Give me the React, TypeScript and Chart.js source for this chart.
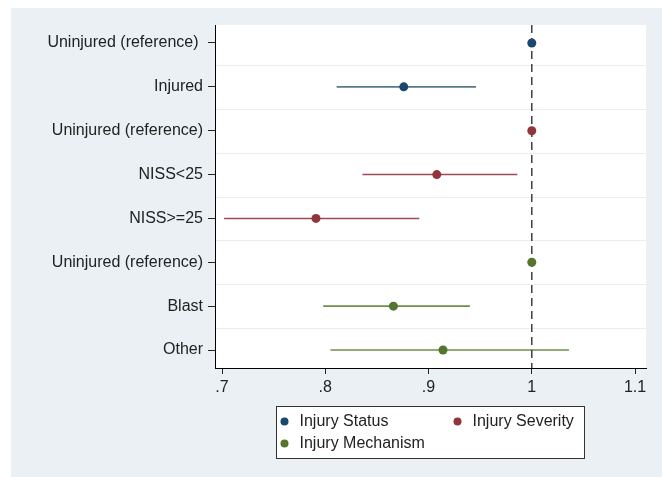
import React, { useEffect, useRef } from "react";
import { Chart, registerables } from "chart.js";

Chart.register(...registerables);

const CATEGORIES = [
  "Uninjured (reference) ",
  "Injured",
  "Uninjured (reference)",
  "NISS<25",
  "NISS>=25",
  "Uninjured (reference)",
  "Blast",
  "Other",
];

const X_TICKS = [0.7, 0.8, 0.9, 1.0, 1.1];
const X_TICK_LABELS = [".7", ".8", ".9", "1", "1.1"];

const SERIES_NAMES = ["Injury Status", "Injury Severity", "Injury Mechanism"];

const STATUS_ROWS = [0, 1];
const STATUS_EST = [1.0, 0.876];
const STATUS_LO = [null, 0.811];
const STATUS_HI = [null, 0.946];

const SEVERITY_ROWS = [2, 3, 4];
const SEVERITY_EST = [1.0, 0.908, 0.791];
const SEVERITY_LO = [null, 0.836, 0.702];
const SEVERITY_HI = [null, 0.986, 0.891];

const MECH_ROWS = [5, 6, 7];
const MECH_EST = [1.0, 0.866, 0.914];
const MECH_LO = [null, 0.798, 0.805];
const MECH_HI = [null, 0.94, 1.036];

const REFERENCE_VALUE = 1;

const POINT_COLORS = ["#1a476f", "#90353b", "#55752f"];
const CI_COLORS = ["#56788a", "#a04853", "#6f8f48"];

const Y_MIN = -0.41;
const Y_MAX = 7.41;

const FONT = "'Liberation Sans', Arial, sans-serif";

export default function App() {
  const ref = useRef<HTMLCanvasElement | null>(null);

  useEffect(() => {
    if (!ref.current) return;
    const groups = [
      { rows: STATUS_ROWS, est: STATUS_EST, lo: STATUS_LO, hi: STATUS_HI },
      { rows: SEVERITY_ROWS, est: SEVERITY_EST, lo: SEVERITY_LO, hi: SEVERITY_HI },
      { rows: MECH_ROWS, est: MECH_EST, lo: MECH_LO, hi: MECH_HI },
    ];

    const datasets: any[] = [];
    groups.forEach((g, gi) => {
      datasets.push({
        type: "scatter",
        label: SERIES_NAMES[gi],
        data: g.rows.map((r, i) => ({ x: g.est[i], y: r })),
        backgroundColor: POINT_COLORS[gi],
        borderColor: POINT_COLORS[gi],
        pointRadius: 4.5,
        pointBorderWidth: 0,
        order: 0,
        isLegend: true,
      });
    });
    groups.forEach((g, gi) => {
      g.rows.forEach((r, i) => {
        if (g.lo[i] == null || g.hi[i] == null) return;
        datasets.push({
          type: "line",
          label: "ci",
          data: [
            { x: g.lo[i], y: r },
            { x: g.hi[i], y: r },
          ],
          borderColor: CI_COLORS[gi],
          borderWidth: 1.6,
          pointRadius: 0,
          fill: false,
          order: 2,
        });
      });
    });
    datasets.push({
      type: "line",
      label: "ref",
      data: [
        { x: REFERENCE_VALUE, y: Y_MIN },
        { x: REFERENCE_VALUE, y: Y_MAX },
      ],
      borderColor: "#333333",
      borderWidth: 1.4,
      borderDash: [8, 5],
      pointRadius: 0,
      fill: false,
      order: 1,
    });

    const bgPlugin = {
      id: "plotBg",
      beforeDraw(chart: any) {
        const { ctx, chartArea } = chart;
        ctx.save();
        ctx.fillStyle = "#ffffff";
        ctx.fillRect(chartArea.left, chartArea.top, chartArea.right - chartArea.left, chartArea.bottom - chartArea.top);
        const ys = chart.scales.y;
        ctx.strokeStyle = "#ececec";
        ctx.lineWidth = 1;
        for (let i = 0; i < CATEGORIES.length - 1; i++) {
          const py = Math.round(ys.getPixelForValue(i + 0.5)) + 0.5;
          ctx.beginPath();
          ctx.moveTo(chartArea.left, py);
          ctx.lineTo(chartArea.right, py);
          ctx.stroke();
        }
        ctx.restore();
      },
    };

    const legendPlugin = {
      id: "boxLegend",
      afterDraw(chart: any) {
        const { ctx, chartArea } = chart;
        const w = 308;
        const h = 52;
        const cx = (chartArea.left + chartArea.right) / 2 - 1;
        const left = Math.round(cx - w / 2) + 0.5;
        const top = Math.round(chartArea.bottom + 38) + 0.5;
        ctx.save();
        ctx.fillStyle = "#ffffff";
        ctx.fillRect(left, top, w, h);
        ctx.strokeStyle = "#333333";
        ctx.lineWidth = 1;
        ctx.strokeRect(left, top, w, h);
        ctx.font = `16px ${FONT}`;
        ctx.textBaseline = "middle";
        ctx.fillStyle = "#222222";
        const pos = [
          [left + 8, top + 15],
          [left + 181, top + 15],
          [left + 8, top + 37],
        ];
        SERIES_NAMES.forEach((name, i) => {
          const [mx, my] = pos[i];
          ctx.beginPath();
          ctx.fillStyle = POINT_COLORS[i];
          ctx.arc(mx, my, 4, 0, Math.PI * 2);
          ctx.fill();
          ctx.fillStyle = "#222222";
          ctx.fillText(name, mx + 15, my);
        });
        ctx.restore();
      },
    };

    const chart = new Chart(ref.current, {
      type: "scatter",
      data: { datasets },
      options: {
        animation: false,
        responsive: false,
        maintainAspectRatio: false,
        layout: { padding: { top: 25, right: 16, bottom: 79, left: 0 } },
        plugins: {
          legend: { display: false },
          tooltip: { enabled: false },
        },
        scales: {
          x: {
            type: "linear",
            min: 0.6932,
            max: 1.1106,
            afterBuildTicks: (s: any) => {
              s.ticks = X_TICKS.map((v) => ({ value: v }));
            },
            afterFit: (s: any) => {
              s.height = 30;
            },
            ticks: {
              callback: (v: any) => {
                const idx = X_TICKS.findIndex((t) => Math.abs(t - Number(v)) < 1e-6);
                return idx >= 0 ? X_TICK_LABELS[idx] : "";
              },
              color: "#222222",
              font: { family: FONT, size: 16 },
              padding: 4,
              maxRotation: 0,
              autoSkip: false,
            },
            grid: {
              drawOnChartArea: false,
              drawTicks: true,
              tickLength: 6,
              color: "#222222",
            },
            border: { display: true, color: "#000000", width: 1 },
          },
          y: {
            type: "linear",
            reverse: true,
            min: Y_MIN,
            max: Y_MAX,
            afterBuildTicks: (s: any) => {
              s.ticks = CATEGORIES.map((_, i) => ({ value: i }));
            },
            afterFit: (s: any) => {
              s.width = 215;
            },
            ticks: {
              callback: (v: any) => CATEGORIES[Math.round(Number(v))] ?? "",
              color: "#222222",
              font: { family: FONT, size: 16 },
              padding: 5,
              autoSkip: false,
            },
            grid: {
              drawOnChartArea: false,
              drawTicks: true,
              tickLength: 7,
              color: "#222222",
            },
            border: { display: true, color: "#000000", width: 1 },
          },
        },
      },
      plugins: [bgPlugin, legendPlugin],
    } as any);
    return () => chart.destroy();
  }, []);

  return (
    <div style={{ position: "fixed", left: 0, top: 0, width: 662, height: 477, background: "#ffffff" }}>
      <div style={{ position: "absolute", left: 11, top: 8, right: 0, bottom: 0, background: "#eaf0f3" }} />
      <canvas ref={ref} width={662} height={477} style={{ position: "absolute", left: 0, top: 0, width: 662, height: 477 }} />
    </div>
  );
}
